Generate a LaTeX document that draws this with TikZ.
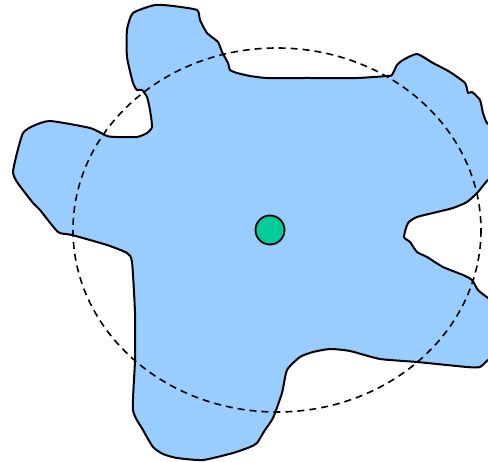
\documentclass[tikz,border=0pt]{standalone}
\definecolor{blobfill}{HTML}{99ccff}
\definecolor{corefill}{HTML}{00cc99}
\begin{document}
\begin{tikzpicture}[
  x=1pt, y=-1pt,
  line cap=round, line join=round,
  blob/.style={fill=blobfill, draw=black, line width=2pt},
  orbit/.style={draw=black, line width=1.6pt, line cap=butt, dash pattern=on 7pt off 5pt},
  core/.style={circle, fill=corefill, draw=black, line width=1.8pt, minimum size=29pt, inner sep=0pt},
]
\useasboundingbox (0,0) rectangle (488,462);
\clip (0,0) rectangle (488,462);
\draw[blob] plot[smooth cycle, tension=0.35] coordinates {
  (127,57) (127,30) (133,13) (155,5) (173,6) (197,10) (200,20) (207,33)
  (218,42) (222,52) (228,63) (230,70) (237,73) (250,76) (267,78) (307,78)
  (357,78) (387,76) (392,75) (397,65) (403,60) (417,54) (433,63) (450,72)
  (465,83) (468,93) (472,92) (480,100) (483,113) (487,123) (500,135)
  (500,175) (488,180) (478,192) (467,202) (453,208) (433,213) (417,217)
  (408,223) (404,237) (410,242) (417,252) (427,257) (443,267) (463,275)
  (472,280) (478,290) (488,298) (500,305) (500,355) (488,360) (480,367)
  (467,367) (417,362) (380,359) (350,351) (330,349) (313,352) (300,357)
  (287,370) (282,393) (273,418) (265,430) (257,443) (250,447) (233,453)
  (203,460) (177,458) (163,454) (153,447) (143,430) (133,410) (135,360)
  (135,313) (132,262) (127,253) (107,245) (72,235) (58,232) (40,210)
  (33,203) (17,182) (13,172) (17,153) (23,133) (33,126) (50,121) (90,128)
  (107,136) (117,137) (137,137) (147,133) (152,127) (150,110) (147,97)
  (142,90) (137,90) (133,83)
};
\draw[orbit] (277,230) ellipse [x radius=204, y radius=182];
\node[core] (center) at (270,230) {};
\end{tikzpicture}
\end{document}
